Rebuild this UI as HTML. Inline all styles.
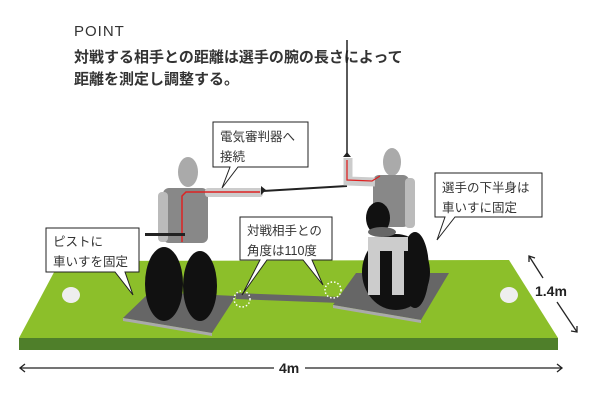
<!DOCTYPE html>
<html><head><meta charset="utf-8"><style>
body{margin:0;background:#fff}
svg{display:block}
text{font-family:"Liberation Sans","Noto Sans CJK JP",sans-serif}
</style></head><body>
<svg width="600" height="408" viewBox="0 0 600 408" xmlns="http://www.w3.org/2000/svg">
<text x="74" y="36" font-size="15" fill="#333" letter-spacing="1">POINT</text>
<text x="74" y="62" font-size="15" font-weight="bold" fill="#333">対戦する相手との距離は選手の腕の長さによって</text>
<text x="74" y="84" font-size="15" font-weight="bold" fill="#333">距離を測定し調整する。</text>
<!-- platform -->
<polygon points="19,338 558,338 558,350 19,350" fill="#4f7f2a"/>
<polygon points="60,261 509,260 558,338 19,338" fill="#8cbf2a"/>
<ellipse cx="71" cy="295" rx="9" ry="8" fill="#eee"/>
<ellipse cx="509" cy="295" rx="9" ry="8" fill="#eee"/>
<!-- mats -->
<polygon points="150,292 236,296 212,333 123,318" fill="#666"/>
<polygon points="123,318 212,333 212,336 123,321" fill="#aaa"/>
<polygon points="236,293 340,297 340,303 236,299" fill="#666"/>
<polygon points="356,273 449,273 421,320 333,305" fill="#666"/>
<polygon points="333,305 421,320 421,323 333,308" fill="#aaa"/>
<circle cx="242" cy="299" r="8" fill="none" stroke="#fff" stroke-width="1.5" stroke-dasharray="1.5 2"/>
<circle cx="333" cy="290" r="8" fill="none" stroke="#fff" stroke-width="1.5" stroke-dasharray="1.5 2"/>
<!-- left fencer -->
<ellipse cx="188" cy="172" rx="10" ry="15" fill="#aaa"/>
<rect x="163" y="188" width="45" height="55" rx="6" fill="#888"/>
<rect x="158" y="192" width="10" height="50" rx="4" fill="#bbb"/>
<rect x="205" y="188" width="58" height="9" rx="3" fill="#ccc"/>
<polyline points="182,242 182,196 186,192 260,192" stroke="#d22" stroke-width="1.5" fill="none"/>
<line x1="263" y1="191" x2="347" y2="186" stroke="#222" stroke-width="2"/>
<polygon points="261,186 266,190 261,195" fill="#222"/>
<rect x="145" y="233" width="40" height="3" fill="#222"/>
<ellipse cx="164" cy="284" rx="19" ry="37" fill="#111"/>
<ellipse cx="200" cy="286" rx="17" ry="35" fill="#111"/>
<!-- right fencer -->
<line x1="347" y1="40" x2="347" y2="157" stroke="#222" stroke-width="1.5"/>
<polygon points="343,157 347,152 351,157" fill="#222"/>
<ellipse cx="392" cy="162" rx="9" ry="14" fill="#aaa"/>
<rect x="373" y="175" width="36" height="52" rx="6" fill="#888"/>
<rect x="405" y="178" width="10" height="50" rx="4" fill="#bbb"/>
<polyline points="348,158 348,181 375,182" stroke="#ccc" stroke-width="9" fill="none"/>
<polyline points="347,160 347,180 372,181 380,176" stroke="#d22" stroke-width="1.3" fill="none"/>
<ellipse cx="396" cy="272" rx="34" ry="38" fill="#111"/>
<ellipse cx="415" cy="270" rx="14" ry="38" fill="#111"/>
<rect x="368" y="237" width="40" height="14" fill="#ccc"/>
<rect x="368" y="245" width="12" height="50" fill="#ccc"/>
<rect x="392" y="245" width="12" height="50" fill="#ccc"/>
<ellipse cx="378" cy="218" rx="12" ry="16" fill="#111"/>
<ellipse cx="382" cy="232" rx="14" ry="5" fill="#666"/>
<!-- callouts -->
<g fill="#fff" stroke="#222" stroke-width="1">
<polygon points="46,228 139,228 139,272 125,272 133,295 115,272 46,272"/>
<polygon points="213,122 308,122 308,167 238,167 222,188 230,167 213,167"/>
<polygon points="240,217 332,217 332,260 312,260 323,285 303,260 267,260 242,295 260,260 240,260"/>
<polygon points="435,173 542,173 542,217 455,217 437,240 445,217 435,217"/>
</g>
<g font-size="12.5" fill="#333">
<text x="53" y="246">ピストに</text><text x="53" y="266">車いすを固定</text>
<text x="220" y="141">電気審判器へ</text><text x="220" y="161">接続</text>
<text x="247" y="235">対戦相手との</text><text x="247" y="255">角度は110度</text>
<text x="442" y="192">選手の下半身は</text><text x="442" y="212">車いすに固定</text>
</g>
<!-- dims -->
<g stroke="#222" stroke-width="1.3" fill="none">
<line x1="20" y1="368" x2="274" y2="368"/><line x1="305" y1="368" x2="562" y2="368"/>
<polyline points="25,364 20,368 25,372"/><polyline points="557,364 562,368 557,372"/>
<line x1="529" y1="256" x2="543" y2="278"/><polyline points="529,262 529,256 535,258"/>
<line x1="557" y1="302" x2="577" y2="332"/><polyline points="571,331 577,332 577,326"/>
</g>
<text x="279" y="373" font-size="14" font-weight="bold" fill="#222">4m</text>
<text x="535" y="296" font-size="14" font-weight="bold" fill="#222">1.4m</text>
</svg>
</body></html>
